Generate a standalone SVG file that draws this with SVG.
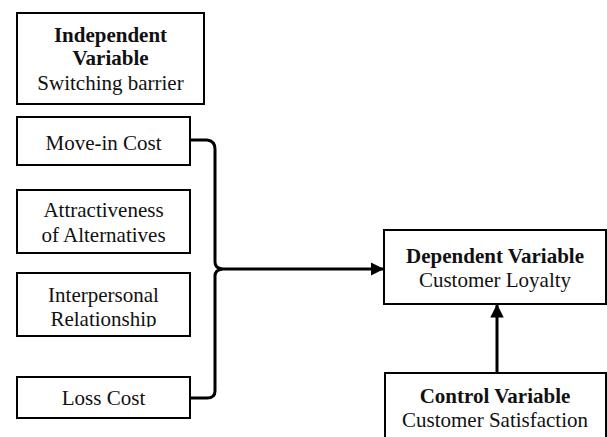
<svg xmlns="http://www.w3.org/2000/svg" width="607" height="437" viewBox="0 0 607 437">
<style>
.box{fill:#fff;stroke:#000;stroke-width:2}
.t{font-family:"Liberation Serif","Times New Roman",serif;font-size:21px;fill:#111;text-anchor:middle}
.b{font-weight:bold}
.c{fill:none;stroke:#000;stroke-width:3}
</style>
<defs>
<marker id="ah" viewBox="0 0 10 10" refX="10" refY="5" markerWidth="4.5" markerHeight="4.5" orient="auto" markerUnits="strokeWidth">
<path d="M0,0 L10,5 L0,10 Z" fill="#000"/>
</marker>
<clipPath id="clipI"><rect x="0" y="270" width="300" height="57"/></clipPath>
</defs>
<rect width="607" height="437" fill="#fff"/>
<g id="independent">
<rect class="box" x="17" y="13" width="187" height="91"/>
<text class="t b" x="110.5" y="42">Independent</text>
<text class="t b" x="110.5" y="65">Variable</text>
<text class="t" x="110.5" y="90">Switching barrier</text>
</g>
<g id="movein">
<rect class="box" x="17" y="117" width="173" height="48"/>
<text class="t" x="103.5" y="150">Move-in Cost</text>
</g>
<g id="attract">
<rect class="box" x="17" y="190" width="173" height="63"/>
<text class="t" x="103.5" y="217">Attractiveness</text>
<text class="t" x="103.5" y="242">of Alternatives</text>
</g>
<g id="interpersonal">
<rect class="box" x="17" y="273" width="173" height="63"/>
<g clip-path="url(#clipI)">
<text class="t" x="103.5" y="302">Interpersonal</text>
<text class="t" x="103.5" y="326">Relationship</text>
</g>
</g>
<g id="loss">
<rect class="box" x="17" y="377" width="173" height="41"/>
<text class="t" x="103.5" y="405">Loss Cost</text>
</g>
<g id="dependent">
<rect class="box" x="384" y="230" width="222" height="74"/>
<text class="t b" x="495" y="263">Dependent Variable</text>
<text class="t" x="495" y="287">Customer Loyalty</text>
</g>
<g id="control">
<rect class="box" x="385" y="373" width="221" height="70"/>
<text class="t b" x="495" y="403">Control Variable</text>
<text class="t" x="495" y="427">Customer Satisfaction</text>
</g>
<g id="connectors">
<path class="c" d="M190,140 L207,140 Q215,141 215,149 L215,262 Q215,268 222,269 Q215,270 215,276 L215,391 Q215,398 207,398 L190,398"/>
<path class="c" d="M218,269 L384,269" marker-end="url(#ah)"/>
<path class="c" d="M497,373 L497,304" marker-end="url(#ah)"/>
</g>
</svg>
